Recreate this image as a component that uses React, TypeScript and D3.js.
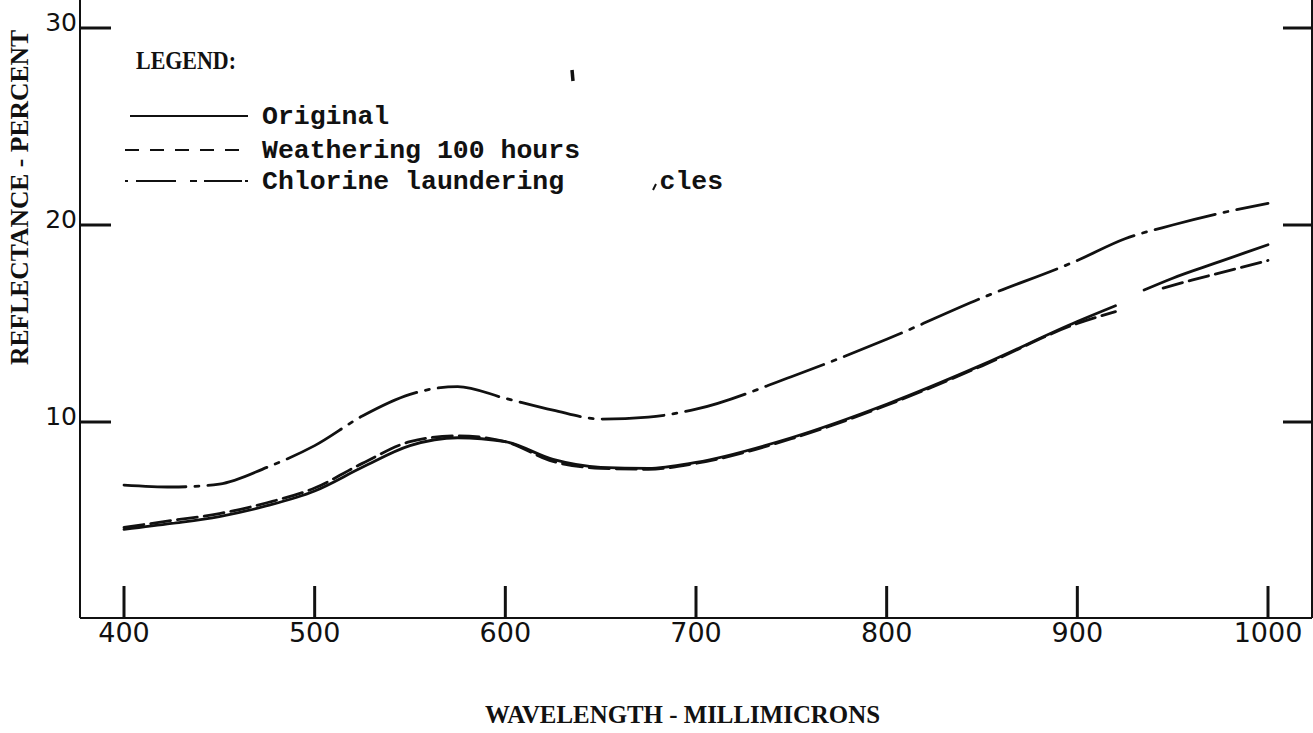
import React, { useEffect, useRef } from "react";
import * as d3 from "d3";

// wavelength (millimicrons) and reflectance (percent)
const chlorineWl = [400, 425, 450, 475, 500, 525, 550, 575, 600, 625, 650, 675, 700, 750, 800, 850, 900, 925, 950, 975, 1000];
const chlorineValues = [6.8, 6.7, 6.85, 7.7, 8.8, 10.3, 11.4, 11.8, 11.2, 10.6, 10.15, 10.25, 10.65, 12.3, 14.2, 16.3, 18.2, 19.3, 20.0, 20.6, 21.1];

const originalWl = [400, 425, 450, 475, 500, 525, 550, 575, 600, 625, 650, 675, 700, 750, 800, 850, 900, 920, 928, 935, 950, 975, 1000];
const originalValues = [4.55, 4.85, 5.2, 5.75, 6.5, 7.7, 8.8, 9.2, 9.0, 8.1, 7.7, 7.65, 7.95, 9.2, 10.9, 12.9, 15.1, 15.9, null, 16.7, 17.3, 18.15, 19.0];

const weatheringWl = [400, 425, 450, 475, 500, 525, 550, 575, 600, 625, 650, 675, 700, 750, 800, 850, 900, 920, 930, 945, 960, 980, 1000];
const weatheringValues = [4.65, 5.0, 5.35, 5.9, 6.65, 7.9, 9.0, 9.3, 9.0, 8.0, 7.65, 7.6, 7.9, 9.15, 10.85, 12.85, 15.0, 15.6, null, 16.8, 17.2, 17.7, 18.2];

const xTicks = [400, 500, 600, 700, 800, 900, 1000];
const yTicks = [10, 20, 30];
const legendLabels = ["Original", "Weathering 100 hours", "Chlorine laundering"];

const W = 1313, H = 733;
const ink = "#111";

export default function App() {
  const ref = useRef<SVGSVGElement>(null);

  useEffect(() => {
    const svg = d3.select(ref.current);
    svg.selectAll("*").remove();

    const x = d3.scaleLinear().domain([400, 1000]).range([124, 1268]);
    const y = d3.scaleLinear().domain([0, 30]).range([619, 28]);
    const axisLeft = 80, axisRight = 1312, axisBottom = 618;

    // frame
    const frame = svg.append("g").attr("stroke", ink).attr("stroke-width", 2).attr("fill", "none");
    frame.append("line").attr("x1", axisLeft).attr("x2", axisLeft).attr("y1", 0).attr("y2", axisBottom);
    frame.append("line").attr("x1", axisRight).attr("x2", axisRight).attr("y1", 0).attr("y2", axisBottom);
    frame.append("line").attr("x1", axisLeft).attr("x2", axisRight).attr("y1", axisBottom).attr("y2", axisBottom);

    // y ticks, left and right
    yTicks.forEach(t => {
      frame.append("line").attr("x1", axisLeft).attr("x2", axisLeft + 31)
        .attr("y1", y(t)).attr("y2", y(t)).attr("stroke-width", 3);
      frame.append("line").attr("x1", axisRight - 29).attr("x2", axisRight)
        .attr("y1", y(t)).attr("y2", y(t)).attr("stroke-width", 3);
    });
    svg.append("g").selectAll("text").data(yTicks).enter().append("text")
      .attr("x", 77).attr("y", d => y(d) + 3)
      .attr("text-anchor", "end")
      .attr("font-family", "DejaVu Sans").attr("font-size", 25).attr("fill", ink)
      .text(d => d);

    // x ticks
    xTicks.forEach(t => {
      frame.append("line").attr("x1", x(t)).attr("x2", x(t))
        .attr("y1", axisBottom - 32).attr("y2", axisBottom).attr("stroke-width", 3);
    });
    svg.append("g").selectAll("text").data(xTicks).enter().append("text")
      .attr("x", d => x(d)).attr("y", 642)
      .attr("text-anchor", "middle")
      .attr("font-family", "DejaVu Sans").attr("font-size", 27).attr("fill", ink)
      .text(d => d);

    // axis titles
    svg.append("text")
      .attr("x", 485).attr("y", 723)
      .attr("textLength", 395).attr("lengthAdjust", "spacingAndGlyphs")
      .attr("font-family", "Liberation Serif").attr("font-weight", "bold")
      .attr("font-size", 26).attr("fill", ink)
      .text("WAVELENGTH - MILLIMICRONS");
    svg.append("text")
      .attr("transform", "translate(28,365) rotate(-90)")
      .attr("textLength", 335).attr("lengthAdjust", "spacingAndGlyphs")
      .attr("font-family", "Liberation Serif").attr("font-weight", "bold")
      .attr("font-size", 25).attr("fill", ink)
      .text("REFLECTANCE - PERCENT");

    // curves
    const series = [
      { wl: originalWl, vals: originalValues, dash: null },
      { wl: weatheringWl, vals: weatheringValues, dash: "20 7" },
      { wl: chlorineWl, vals: chlorineValues, dash: "62 9 4 9" },
    ];
    const line = d3.line<[number, number | null]>()
      .defined(d => d[1] != null)
      .x(d => x(d[0]))
      .y(d => y(d[1] as number))
      .curve(d3.curveMonotoneX);
    series.forEach(s => {
      const pts = s.wl.map((w, i) => [w, s.vals[i]] as [number, number | null]);
      svg.append("path")
        .attr("d", line(pts))
        .attr("fill", "none")
        .attr("stroke", ink)
        .attr("stroke-width", 2.8)
        .attr("stroke-dasharray", s.dash)
        .attr("stroke-linecap", "round");
    });

    // legend
    const lg = svg.append("g");
    lg.append("text").attr("x", 136).attr("y", 69)
      .attr("textLength", 100).attr("lengthAdjust", "spacingAndGlyphs")
      .attr("font-family", "Liberation Serif").attr("font-weight", "bold")
      .attr("font-size", 25).attr("fill", ink).text("LEGEND:");
    const legendY = [116, 150, 181];
    const legendDash = [null, "14 11", "3 8 40 14 7 7 38"];
    const legendX1 = [130, 125, 125];
    const charW = 15.9;
    legendLabels.forEach((lab, i) => {
      lg.append("line").attr("x1", legendX1[i]).attr("x2", 248)
        .attr("y1", legendY[i]).attr("y2", legendY[i])
        .attr("stroke", ink).attr("stroke-width", 2)
        .attr("stroke-dasharray", legendDash[i]);
      lg.append("text").attr("x", 262).attr("y", legendY[i] + 8)
        .attr("font-family", "Liberation Mono").attr("font-weight", "bold")
        .attr("font-size", charW / 0.6).attr("fill", ink).text(lab);
    });
    // the rest of the third label survives only as "cles" in the scan
    lg.append("text").attr("x", 262 + 25 * charW).attr("y", legendY[2] + 8)
      .attr("font-family", "Liberation Mono").attr("font-weight", "bold")
      .attr("font-size", charW / 0.6).attr("fill", ink).text("cles");
    lg.append("line").attr("x1", 653).attr("x2", 656).attr("y1", 190).attr("y2", 184)
      .attr("stroke", ink).attr("stroke-width", 2);
    lg.append("line").attr("x1", 572).attr("x2", 573).attr("y1", 70).attr("y2", 81)
      .attr("stroke", ink).attr("stroke-width", 3.5);
  }, []);

  return (
    <svg ref={ref} width={W} height={H}
      style={{ position: "absolute", left: 0, top: 0, background: "#fff" }} />
  );
}
